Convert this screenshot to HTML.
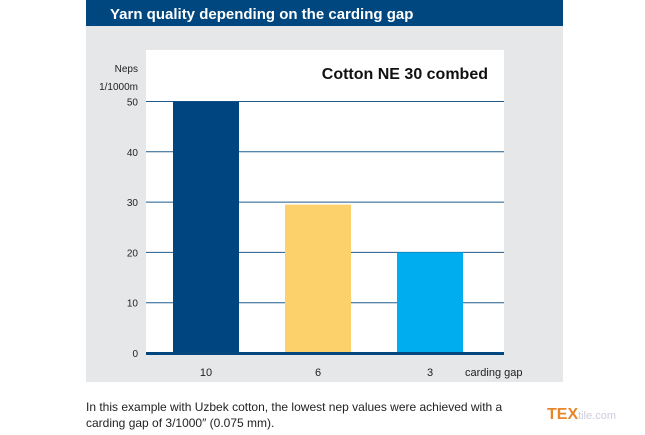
<!DOCTYPE html>
<html><head><meta charset="utf-8"><style>
body{margin:0;width:645px;height:430px;background:#fff;font-family:"Liberation Sans",sans-serif;overflow:hidden}
</style></head><body>
<svg width="645" height="430" xmlns="http://www.w3.org/2000/svg">
<rect x="86" y="0" width="477" height="26" fill="#00467f"/>
<text x="110" y="19" fill="#fff" font-size="15" font-weight="bold">Yarn quality depending on the carding gap</text>
<rect x="86" y="26" width="477" height="356" fill="#e6e7e9"/>
<rect x="146" y="50" width="358" height="304" fill="#fff"/>
<text x="488" y="79" text-anchor="end" font-size="16" font-weight="bold" fill="#111">Cotton NE 30 combed</text>
<text x="138" y="72" text-anchor="end" font-size="10" fill="#222">Neps</text>
<text x="138" y="90" text-anchor="end" font-size="10" fill="#222">1/1000m</text>
<g id="grid"></g><g id="bars"></g><g id="labels"></g>
<rect x="146" y="352" width="358" height="3" fill="#00467f"/>
<text x="465" y="376" font-size="11" fill="#222">carding gap</text>
<text x="86" y="411" font-size="12" fill="#222">In this example with Uzbek cotton, the lowest nep values were achieved with a</text>
<text x="86" y="427" font-size="12" fill="#222">carding gap of 3/1000″ (0.075 mm).</text>
<text x="547" y="419" font-size="16" font-weight="bold" fill="#e8862a">TEX<tspan fill="#ccd" font-weight="normal" font-size="11">tile.com</tspan></text>
</svg>
<script>
const categories=["10","6","3"];
const values=[50,29.5,20];
const ticks=[0,10,20,30,40,50];
const colors=["#00457f","#fcd06b","#00aeef"];
const NS="http://www.w3.org/2000/svg";
const y=v=>353-v*5.03;
const xc=i=>206+i*112;
const grid=document.getElementById('grid'),bars=document.getElementById('bars'),labels=document.getElementById('labels');
ticks.forEach(t=>{
  if(t>0){const l=document.createElementNS(NS,'line');
  l.setAttribute('x1',146);l.setAttribute('x2',504);l.setAttribute('y1',y(t));l.setAttribute('y2',y(t));
  l.setAttribute('stroke','#1f5a8c');l.setAttribute('stroke-width','1');
  
  
  grid.appendChild(l);}
  const tx=document.createElementNS(NS,'text');
  tx.setAttribute('x',138);tx.setAttribute('y',y(t)+4);tx.setAttribute('text-anchor','end');tx.setAttribute('font-size','10');tx.setAttribute('fill','#222');
  tx.textContent=t;
  
  
  labels.appendChild(tx);
});
categories.forEach((c,i)=>{
  const r=document.createElementNS(NS,'rect');
  r.setAttribute('x',xc(i)-33);r.setAttribute('width',66);r.setAttribute('y',y(values[i]));r.setAttribute('height',353-y(values[i]));r.setAttribute('fill',colors[i]);
  
  
  bars.appendChild(r);
  const tx=document.createElementNS(NS,'text');
  tx.setAttribute('x',xc(i));tx.setAttribute('y',376);tx.setAttribute('text-anchor','middle');tx.setAttribute('font-size','11');tx.setAttribute('fill','#222');
  tx.textContent=c;
  
  
  labels.appendChild(tx);
});
</script>
</body></html>
